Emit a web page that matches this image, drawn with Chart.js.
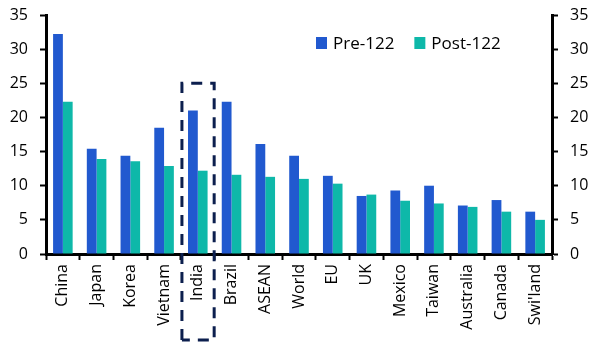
<!DOCTYPE html>
<html>
<head>
<meta charset="utf-8">
<script src="https://cdn.jsdelivr.net/npm/chart.js@4"></script>
<style>
html,body{margin:0;padding:0;background:#fff;}
#wrap{width:603px;height:354px;position:relative;}
</style>
</head>
<body>
<div id="wrap"><canvas id="c" width="603" height="354"></canvas></div>
<script>
const categories = ["China","Japan","Korea","Vietnam","India","Brazil","ASEAN","World","EU","UK","Mexico","Taiwan","Australia","Canada","Swi'land"];
const pre122 = [32.2,15.4,14.4,18.5,21.0,22.3,16.1,14.4,11.45,8.5,9.3,10.0,7.1,7.9,6.2];
const post122 = [22.3,13.9,13.6,12.9,12.2,11.6,11.3,11.0,10.3,8.7,7.8,7.4,6.9,6.2,5.0];
const seriesNames = ["Pre-122","Post-122"];
const yTicks = [0,5,10,15,20,25,30,35];
const highlightCategory = "India";
const highlightTop = 25;

const FONT = "'Open Sans', sans-serif";
const BLUE = "#2159CF";
const TEAL = "#0EB8A9";
const NAVY = "#0C1F4E";

const legendPlugin = {
  id: 'customLegend',
  afterDraw(chart) {
    const ctx = chart.ctx;
    ctx.save();
    ctx.font = "17px " + FONT;
    ctx.textBaseline = 'middle';
    ctx.textAlign = 'left';
    const y = 43;
    let x = 316;
    chart.data.datasets.forEach((ds, i) => {
      ctx.fillStyle = ds.backgroundColor;
      ctx.fillRect(x, y - 6, 11, 12);
      ctx.fillStyle = '#000';
      ctx.fillText(ds.label, x + 17, y + 1);
      x += 17 + ctx.measureText(ds.label).width + 20;
    });
    ctx.restore();
  }
};

const highlightPlugin = {
  id: 'highlightBox',
  afterDraw(chart) {
    const xs = chart.scales.x, ys = chart.scales.y;
    const idx = categories.indexOf(highlightCategory);
    const cw = (xs.right - xs.left) / categories.length;
    const cx = xs.getPixelForValue(idx);
    const l = cx - cw / 2 + 1, r = cx + cw / 2 - 0.5;
    const t = ys.getPixelForValue(highlightTop);
    const b = chart.height - 14;
    const ctx = chart.ctx;
    ctx.save();
    ctx.strokeStyle = NAVY;
    ctx.lineWidth = 3;
    ctx.setLineDash([11, 8]);
    ctx.beginPath();
    ctx.moveTo(l, b);
    ctx.lineTo(l, t);
    ctx.lineTo(r, t);
    ctx.lineTo(r, b);
    ctx.lineTo(l, b);
    ctx.stroke();
    ctx.restore();
  }
};

const yCommon = {
  min: 0, max: 35,
  afterBuildTicks(scale) { scale.ticks = yTicks.map(v => ({value: v})); },
  border: { display: true, color: '#000', width: 3 },
  grid: { display: true, drawOnChartArea: false, drawTicks: true, tickLength: 6, tickWidth: 2, tickColor: '#000' },
  ticks: { color: '#000', font: { family: FONT, size: 16 }, padding: 12 }
};

new Chart(document.getElementById('c'), {
  type: 'bar',
  data: {
    labels: categories,
    datasets: [
      { label: seriesNames[0], data: pre122, backgroundColor: BLUE, categoryPercentage: 0.58, barPercentage: 1.0 },
      { label: seriesNames[1], data: post122, backgroundColor: TEAL, categoryPercentage: 0.58, barPercentage: 1.0 }
    ]
  },
  options: {
    responsive: false,
    animation: false,
    devicePixelRatio: 1,
    layout: { padding: { top: 15, left: 0, right: 0, bottom: 0 } },
    plugins: { legend: { display: false }, tooltip: { enabled: false } },
    scales: {
      x: {
        border: { display: true, color: '#000', width: 3 },
        grid: { display: true, offset: true, drawOnChartArea: false, drawTicks: true, tickLength: 6, tickWidth: 2, tickColor: '#000' },
        ticks: { color: '#000', font: { family: FONT, size: 16 }, minRotation: 90, maxRotation: 90, padding: 4, autoSkip: false },
        afterFit(scale) { scale.height = 100; }
      },
      y: Object.assign({}, yCommon, { position: 'left', afterFit(scale) { scale.width = 46; scale.paddingTop = 0; scale.paddingBottom = 0; } }),
      y2: Object.assign({}, yCommon, { position: 'right', afterFit(scale) { scale.width = 51; scale.paddingTop = 0; scale.paddingBottom = 0; } })
    }
  },
  plugins: [legendPlugin, highlightPlugin]
});
</script>
</body>
</html>
